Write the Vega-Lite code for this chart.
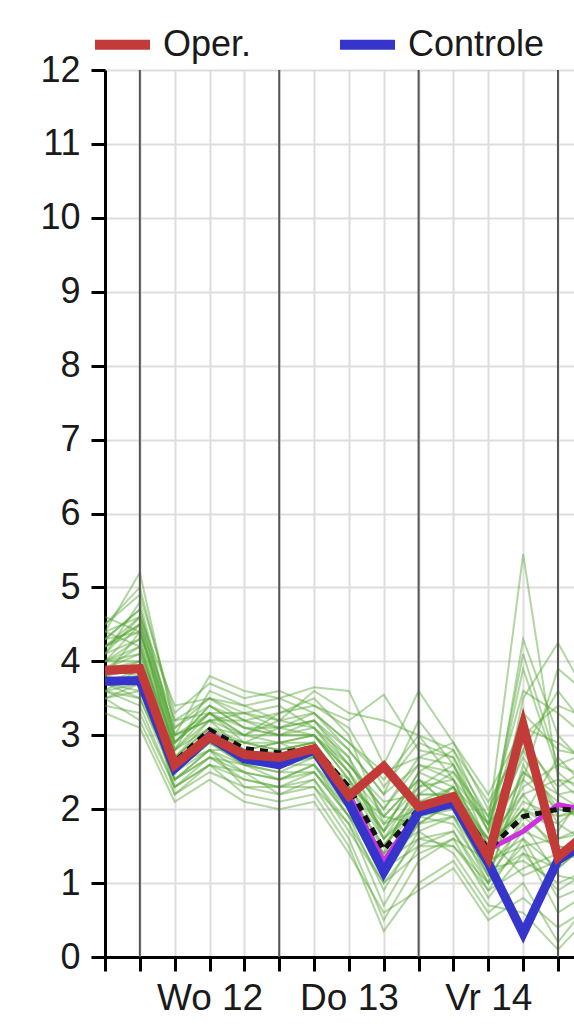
{
  "$schema": "https://vega.github.io/schema/vega-lite/v6.json",
  "autosize": "none",
  "width": 469,
  "height": 887,
  "padding": {"left": 105, "top": 70, "right": 0, "bottom": 67},
  "background": "white",
  "config": {
    "view": {"stroke": null},
    "font": "Liberation Sans",
    "axis": {
      "labelFont": "Liberation Sans",
      "labelFontSize": 36,
      "labelColor": "#1a1a1a",
      "domainColor": "black",
      "domainWidth": 3,
      "tickColor": "black",
      "tickWidth": 3,
      "tickSize": 14,
      "gridColor": "#dddddd",
      "gridWidth": 2,
      "labelOverlap": false,
      "labelBound": false,
      "title": null
    },
    "legend": {
      "orient": "none",
      "legendX": -15,
      "legendY": -58,
      "direction": "horizontal",
      "symbolType": "stroke",
      "symbolStrokeWidth": 10,
      "symbolSize": 3025,
      "labelFont": "Liberation Sans",
      "labelFontSize": 36,
      "labelColor": "#1a1a1a",
      "labelOffset": 8,
      "columnPadding": 68,
      "padding": 0,
      "title": null
    }
  },
  "datasets": {
    "days": [{"s": 1}, {"s": 5}, {"s": 9}, {"s": 13}],
    "main": [
      {"series": "Controle", "s": 0, "v": 3.73}, {"series": "Controle", "s": 1, "v": 3.74}, {"series": "Controle", "s": 2, "v": 2.55}, {"series": "Controle", "s": 3, "v": 2.98}, {"series": "Controle", "s": 4, "v": 2.68}, {"series": "Controle", "s": 5, "v": 2.6}, {"series": "Controle", "s": 6, "v": 2.8}, {"series": "Controle", "s": 7, "v": 2.08}, {"series": "Controle", "s": 8, "v": 1.15}, {"series": "Controle", "s": 9, "v": 1.96}, {"series": "Controle", "s": 10, "v": 2.08}, {"series": "Controle", "s": 11, "v": 1.27}, {"series": "Controle", "s": 12, "v": 0.32}, {"series": "Controle", "s": 13, "v": 1.31}, {"series": "Controle", "s": 14, "v": 1.6},
      {"series": "Oper.", "s": 0, "v": 3.88}, {"series": "Oper.", "s": 1, "v": 3.9}, {"series": "Oper.", "s": 2, "v": 2.6}, {"series": "Oper.", "s": 3, "v": 2.98}, {"series": "Oper.", "s": 4, "v": 2.74}, {"series": "Oper.", "s": 5, "v": 2.7}, {"series": "Oper.", "s": 6, "v": 2.82}, {"series": "Oper.", "s": 7, "v": 2.18}, {"series": "Oper.", "s": 8, "v": 2.58}, {"series": "Oper.", "s": 9, "v": 2.03}, {"series": "Oper.", "s": 10, "v": 2.17}, {"series": "Oper.", "s": 11, "v": 1.35}, {"series": "Oper.", "s": 12, "v": 3.14}, {"series": "Oper.", "s": 13, "v": 1.35}, {"series": "Oper.", "s": 14, "v": 1.75}
    ],
    "mean": [
      {"s": 0, "v": 3.88}, {"s": 1, "v": 3.92}, {"s": 2, "v": 2.64}, {"s": 3, "v": 3.07}, {"s": 4, "v": 2.82}, {"s": 5, "v": 2.76}, {"s": 6, "v": 2.83}, {"s": 7, "v": 2.3}, {"s": 8, "v": 1.45}, {"s": 9, "v": 2.0}, {"s": 10, "v": 2.15}, {"s": 11, "v": 1.45}, {"s": 12, "v": 1.9}, {"s": 13, "v": 2.0}, {"s": 14, "v": 1.98}
    ],
    "median": [
      {"s": 0, "v": 3.85}, {"s": 1, "v": 3.88}, {"s": 2, "v": 2.6}, {"s": 3, "v": 3.03}, {"s": 4, "v": 2.76}, {"s": 5, "v": 2.72}, {"s": 6, "v": 2.8}, {"s": 7, "v": 2.2}, {"s": 8, "v": 1.3}, {"s": 9, "v": 1.98}, {"s": 10, "v": 2.1}, {"s": 11, "v": 1.45}, {"s": 12, "v": 1.7}, {"s": 13, "v": 2.06}, {"s": 14, "v": 1.98}
    ],
    "ens": [
      {"m":"e1","s":0,"v":4.4},{"m":"e1","s":1,"v":5.2},{"m":"e1","s":2,"v":3.1},{"m":"e1","s":3,"v":3.5},{"m":"e1","s":4,"v":3.2},{"m":"e1","s":5,"v":3.1},{"m":"e1","s":6,"v":3.3},{"m":"e1","s":7,"v":2.8},{"m":"e1","s":8,"v":2.2},{"m":"e1","s":9,"v":2.6},{"m":"e1","s":10,"v":2.4},{"m":"e1","s":11,"v":1.8},{"m":"e1","s":12,"v":5.45},{"m":"e1","s":13,"v":2.4},{"m":"e1","s":14,"v":2.0},
      {"m":"e2","s":0,"v":4.2},{"m":"e2","s":1,"v":4.6},{"m":"e2","s":2,"v":2.9},{"m":"e2","s":3,"v":3.3},{"m":"e2","s":4,"v":3.0},{"m":"e2","s":5,"v":3.3},{"m":"e2","s":6,"v":3.5},{"m":"e2","s":7,"v":3.0},{"m":"e2","s":8,"v":1.8},{"m":"e2","s":9,"v":2.3},{"m":"e2","s":10,"v":2.6},{"m":"e2","s":11,"v":1.5},{"m":"e2","s":12,"v":4.3},{"m":"e2","s":13,"v":3.0},{"m":"e2","s":14,"v":2.5},
      {"m":"e3","s":0,"v":4.0},{"m":"e3","s":1,"v":4.5},{"m":"e3","s":2,"v":2.7},{"m":"e3","s":3,"v":3.1},{"m":"e3","s":4,"v":2.8},{"m":"e3","s":5,"v":2.9},{"m":"e3","s":6,"v":3.0},{"m":"e3","s":7,"v":2.4},{"m":"e3","s":8,"v":1.2},{"m":"e3","s":9,"v":2.1},{"m":"e3","s":10,"v":2.2},{"m":"e3","s":11,"v":1.2},{"m":"e3","s":12,"v":3.5},{"m":"e3","s":13,"v":4.25},{"m":"e3","s":14,"v":3.4},
      {"m":"e4","s":0,"v":3.6},{"m":"e4","s":1,"v":3.5},{"m":"e4","s":2,"v":2.4},{"m":"e4","s":3,"v":2.8},{"m":"e4","s":4,"v":2.5},{"m":"e4","s":5,"v":2.4},{"m":"e4","s":6,"v":2.6},{"m":"e4","s":7,"v":1.9},{"m":"e4","s":8,"v":0.9},{"m":"e4","s":9,"v":1.7},{"m":"e4","s":10,"v":1.9},{"m":"e4","s":11,"v":1.0},{"m":"e4","s":12,"v":2.6},{"m":"e4","s":13,"v":1.8},{"m":"e4","s":14,"v":1.5},
      {"m":"e5","s":0,"v":3.5},{"m":"e5","s":1,"v":3.2},{"m":"e5","s":2,"v":2.2},{"m":"e5","s":3,"v":2.5},{"m":"e5","s":4,"v":2.3},{"m":"e5","s":5,"v":2.2},{"m":"e5","s":6,"v":2.3},{"m":"e5","s":7,"v":1.6},{"m":"e5","s":8,"v":0.5},{"m":"e5","s":9,"v":1.3},{"m":"e5","s":10,"v":1.6},{"m":"e5","s":11,"v":0.8},{"m":"e5","s":12,"v":1.4},{"m":"e5","s":13,"v":0.9},{"m":"e5","s":14,"v":1.2},
      {"m":"e6","s":0,"v":3.9},{"m":"e6","s":1,"v":4.2},{"m":"e6","s":2,"v":2.8},{"m":"e6","s":3,"v":3.6},{"m":"e6","s":4,"v":3.4},{"m":"e6","s":5,"v":3.5},{"m":"e6","s":6,"v":3.65},{"m":"e6","s":7,"v":3.6},{"m":"e6","s":8,"v":2.6},{"m":"e6","s":9,"v":3.6},{"m":"e6","s":10,"v":2.9},{"m":"e6","s":11,"v":2.0},{"m":"e6","s":12,"v":3.0},{"m":"e6","s":13,"v":2.2},{"m":"e6","s":14,"v":2.3},
      {"m":"e7","s":0,"v":4.3},{"m":"e7","s":1,"v":4.7},{"m":"e7","s":2,"v":3.0},{"m":"e7","s":3,"v":3.2},{"m":"e7","s":4,"v":3.3},{"m":"e7","s":5,"v":3.2},{"m":"e7","s":6,"v":3.1},{"m":"e7","s":7,"v":2.7},{"m":"e7","s":8,"v":1.6},{"m":"e7","s":9,"v":2.0},{"m":"e7","s":10,"v":2.3},{"m":"e7","s":11,"v":1.4},{"m":"e7","s":12,"v":2.2},{"m":"e7","s":13,"v":1.6},{"m":"e7","s":14,"v":1.8},
      {"m":"e8","s":0,"v":3.7},{"m":"e8","s":1,"v":3.9},{"m":"e8","s":2,"v":2.5},{"m":"e8","s":3,"v":2.9},{"m":"e8","s":4,"v":2.7},{"m":"e8","s":5,"v":2.6},{"m":"e8","s":6,"v":2.7},{"m":"e8","s":7,"v":2.1},{"m":"e8","s":8,"v":1.4},{"m":"e8","s":9,"v":2.4},{"m":"e8","s":10,"v":2.0},{"m":"e8","s":11,"v":1.6},{"m":"e8","s":12,"v":1.9},{"m":"e8","s":13,"v":2.7},{"m":"e8","s":14,"v":2.2},
      {"m":"e9","s":0,"v":3.4},{"m":"e9","s":1,"v":3.3},{"m":"e9","s":2,"v":2.3},{"m":"e9","s":3,"v":2.6},{"m":"e9","s":4,"v":2.2},{"m":"e9","s":5,"v":2.1},{"m":"e9","s":6,"v":2.2},{"m":"e9","s":7,"v":1.5},{"m":"e9","s":8,"v":0.35},{"m":"e9","s":9,"v":1.0},{"m":"e9","s":10,"v":1.3},{"m":"e9","s":11,"v":0.6},{"m":"e9","s":12,"v":1.0},{"m":"e9","s":13,"v":0.2},{"m":"e9","s":14,"v":0.8},
      {"m":"e10","s":0,"v":4.5},{"m":"e10","s":1,"v":4.9},{"m":"e10","s":2,"v":3.3},{"m":"e10","s":3,"v":3.7},{"m":"e10","s":4,"v":3.5},{"m":"e10","s":5,"v":3.6},{"m":"e10","s":6,"v":3.4},{"m":"e10","s":7,"v":3.2},{"m":"e10","s":8,"v":3.55},{"m":"e10","s":9,"v":2.8},{"m":"e10","s":10,"v":2.7},{"m":"e10","s":11,"v":1.9},{"m":"e10","s":12,"v":2.8},{"m":"e10","s":13,"v":3.6},{"m":"e10","s":14,"v":3.0},
      {"m":"e11","s":0,"v":4.1},{"m":"e11","s":1,"v":4.3},{"m":"e11","s":2,"v":2.6},{"m":"e11","s":3,"v":3.0},{"m":"e11","s":4,"v":2.9},{"m":"e11","s":5,"v":2.8},{"m":"e11","s":6,"v":2.9},{"m":"e11","s":7,"v":2.3},{"m":"e11","s":8,"v":1.9},{"m":"e11","s":9,"v":1.8},{"m":"e11","s":10,"v":2.1},{"m":"e11","s":11,"v":1.3},{"m":"e11","s":12,"v":1.6},{"m":"e11","s":13,"v":1.2},{"m":"e11","s":14,"v":1.6},
      {"m":"e12","s":0,"v":3.8},{"m":"e12","s":1,"v":3.7},{"m":"e12","s":2,"v":2.6},{"m":"e12","s":3,"v":2.9},{"m":"e12","s":4,"v":2.6},{"m":"e12","s":5,"v":2.5},{"m":"e12","s":6,"v":2.5},{"m":"e12","s":7,"v":2.0},{"m":"e12","s":8,"v":1.1},{"m":"e12","s":9,"v":1.9},{"m":"e12","s":10,"v":1.8},{"m":"e12","s":11,"v":1.1},{"m":"e12","s":12,"v":2.4},{"m":"e12","s":13,"v":2.0},{"m":"e12","s":14,"v":1.9},
      {"m":"e13","s":0,"v":4.0},{"m":"e13","s":1,"v":4.1},{"m":"e13","s":2,"v":2.9},{"m":"e13","s":3,"v":3.4},{"m":"e13","s":4,"v":3.1},{"m":"e13","s":5,"v":3.0},{"m":"e13","s":6,"v":3.2},{"m":"e13","s":7,"v":2.6},{"m":"e13","s":8,"v":2.1},{"m":"e13","s":9,"v":2.2},{"m":"e13","s":10,"v":2.5},{"m":"e13","s":11,"v":1.7},{"m":"e13","s":12,"v":3.9},{"m":"e13","s":13,"v":2.5},{"m":"e13","s":14,"v":2.1},
      {"m":"e14","s":0,"v":3.6},{"m":"e14","s":1,"v":3.4},{"m":"e14","s":2,"v":2.3},{"m":"e14","s":3,"v":2.7},{"m":"e14","s":4,"v":2.4},{"m":"e14","s":5,"v":2.3},{"m":"e14","s":6,"v":2.4},{"m":"e14","s":7,"v":1.8},{"m":"e14","s":8,"v":0.7},{"m":"e14","s":9,"v":1.5},{"m":"e14","s":10,"v":1.5},{"m":"e14","s":11,"v":0.9},{"m":"e14","s":12,"v":1.2},{"m":"e14","s":13,"v":1.4},{"m":"e14","s":14,"v":1.3},
      {"m":"e15","s":0,"v":4.3},{"m":"e15","s":1,"v":4.4},{"m":"e15","s":2,"v":2.8},{"m":"e15","s":3,"v":3.3},{"m":"e15","s":4,"v":3.0},{"m":"e15","s":5,"v":3.2},{"m":"e15","s":6,"v":3.3},{"m":"e15","s":7,"v":2.9},{"m":"e15","s":8,"v":2.4},{"m":"e15","s":9,"v":3.0},{"m":"e15","s":10,"v":2.4},{"m":"e15","s":11,"v":1.5},{"m":"e15","s":12,"v":2.0},{"m":"e15","s":13,"v":1.7},{"m":"e15","s":14,"v":2.4},
      {"m":"e16","s":0,"v":3.9},{"m":"e16","s":1,"v":4.0},{"m":"e16","s":2,"v":2.5},{"m":"e16","s":3,"v":2.8},{"m":"e16","s":4,"v":2.8},{"m":"e16","s":5,"v":2.7},{"m":"e16","s":6,"v":2.8},{"m":"e16","s":7,"v":2.2},{"m":"e16","s":8,"v":1.5},{"m":"e16","s":9,"v":2.2},{"m":"e16","s":10,"v":2.2},{"m":"e16","s":11,"v":1.2},{"m":"e16","s":12,"v":1.8},{"m":"e16","s":13,"v":1.1},{"m":"e16","s":14,"v":1.0},
      {"m":"e17","s":0,"v":4.2},{"m":"e17","s":1,"v":4.5},{"m":"e17","s":2,"v":3.2},{"m":"e17","s":3,"v":3.5},{"m":"e17","s":4,"v":3.3},{"m":"e17","s":5,"v":3.4},{"m":"e17","s":6,"v":3.1},{"m":"e17","s":7,"v":2.5},{"m":"e17","s":8,"v":1.7},{"m":"e17","s":9,"v":2.5},{"m":"e17","s":10,"v":2.8},{"m":"e17","s":11,"v":2.1},{"m":"e17","s":12,"v":2.9},{"m":"e17","s":13,"v":2.3},{"m":"e17","s":14,"v":2.6},
      {"m":"e18","s":0,"v":3.5},{"m":"e18","s":1,"v":3.6},{"m":"e18","s":2,"v":2.4},{"m":"e18","s":3,"v":2.7},{"m":"e18","s":4,"v":2.5},{"m":"e18","s":5,"v":2.4},{"m":"e18","s":6,"v":2.6},{"m":"e18","s":7,"v":2.0},{"m":"e18","s":8,"v":1.3},{"m":"e18","s":9,"v":1.6},{"m":"e18","s":10,"v":1.7},{"m":"e18","s":11,"v":1.0},{"m":"e18","s":12,"v":1.5},{"m":"e18","s":13,"v":0.6},{"m":"e18","s":14,"v":0.9},
      {"m":"e19","s":0,"v":4.1},{"m":"e19","s":1,"v":4.8},{"m":"e19","s":2,"v":3.0},{"m":"e19","s":3,"v":3.2},{"m":"e19","s":4,"v":3.2},{"m":"e19","s":5,"v":3.0},{"m":"e19","s":6,"v":3.0},{"m":"e19","s":7,"v":2.6},{"m":"e19","s":8,"v":2.0},{"m":"e19","s":9,"v":2.7},{"m":"e19","s":10,"v":2.6},{"m":"e19","s":11,"v":1.8},{"m":"e19","s":12,"v":3.3},{"m":"e19","s":13,"v":2.8},{"m":"e19","s":14,"v":2.7},
      {"m":"e20","s":0,"v":3.7},{"m":"e20","s":1,"v":3.8},{"m":"e20","s":2,"v":2.7},{"m":"e20","s":3,"v":3.1},{"m":"e20","s":4,"v":2.7},{"m":"e20","s":5,"v":2.8},{"m":"e20","s":6,"v":2.9},{"m":"e20","s":7,"v":2.3},{"m":"e20","s":8,"v":1.6},{"m":"e20","s":9,"v":2.1},{"m":"e20","s":10,"v":2.3},{"m":"e20","s":11,"v":1.4},{"m":"e20","s":12,"v":2.1},{"m":"e20","s":13,"v":1.9},{"m":"e20","s":14,"v":2.0},
      {"m":"e21","s":0,"v":4.4},{"m":"e21","s":1,"v":4.6},{"m":"e21","s":2,"v":2.9},{"m":"e21","s":3,"v":3.4},{"m":"e21","s":4,"v":3.1},{"m":"e21","s":5,"v":3.1},{"m":"e21","s":6,"v":3.2},{"m":"e21","s":7,"v":2.7},{"m":"e21","s":8,"v":1.9},{"m":"e21","s":9,"v":2.4},{"m":"e21","s":10,"v":2.0},{"m":"e21","s":11,"v":1.1},{"m":"e21","s":12,"v":1.7},{"m":"e21","s":13,"v":1.5},{"m":"e21","s":14,"v":1.4},
      {"m":"e22","s":0,"v":3.8},{"m":"e22","s":1,"v":4.0},{"m":"e22","s":2,"v":2.2},{"m":"e22","s":3,"v":2.6},{"m":"e22","s":4,"v":2.5},{"m":"e22","s":5,"v":2.2},{"m":"e22","s":6,"v":2.4},{"m":"e22","s":7,"v":1.7},{"m":"e22","s":8,"v":1.0},{"m":"e22","s":9,"v":1.4},{"m":"e22","s":10,"v":1.6},{"m":"e22","s":11,"v":1.3},{"m":"e22","s":12,"v":2.5},{"m":"e22","s":13,"v":2.1},{"m":"e22","s":14,"v":1.7},
      {"m":"e23","s":0,"v":4.0},{"m":"e23","s":1,"v":4.2},{"m":"e23","s":2,"v":2.7},{"m":"e23","s":3,"v":3.0},{"m":"e23","s":4,"v":2.9},{"m":"e23","s":5,"v":2.9},{"m":"e23","s":6,"v":2.7},{"m":"e23","s":7,"v":2.4},{"m":"e23","s":8,"v":1.8},{"m":"e23","s":9,"v":2.0},{"m":"e23","s":10,"v":2.1},{"m":"e23","s":11,"v":1.6},{"m":"e23","s":12,"v":1.1},{"m":"e23","s":13,"v":1.3},{"m":"e23","s":14,"v":1.5},
      {"m":"e24","s":0,"v":3.6},{"m":"e24","s":1,"v":3.7},{"m":"e24","s":2,"v":2.6},{"m":"e24","s":3,"v":2.9},{"m":"e24","s":4,"v":2.6},{"m":"e24","s":5,"v":2.6},{"m":"e24","s":6,"v":2.6},{"m":"e24","s":7,"v":2.1},{"m":"e24","s":8,"v":1.2},{"m":"e24","s":9,"v":1.8},{"m":"e24","s":10,"v":1.9},{"m":"e24","s":11,"v":1.5},{"m":"e24","s":12,"v":2.3},{"m":"e24","s":13,"v":2.6},{"m":"e24","s":14,"v":2.8},
      {"m":"e25","s":0,"v":4.2},{"m":"e25","s":1,"v":4.4},{"m":"e25","s":2,"v":3.1},{"m":"e25","s":3,"v":3.4},{"m":"e25","s":4,"v":3.2},{"m":"e25","s":5,"v":3.3},{"m":"e25","s":6,"v":3.4},{"m":"e25","s":7,"v":3.1},{"m":"e25","s":8,"v":2.3},{"m":"e25","s":9,"v":2.9},{"m":"e25","s":10,"v":2.7},{"m":"e25","s":11,"v":1.7},{"m":"e25","s":12,"v":2.7},{"m":"e25","s":13,"v":2.0},{"m":"e25","s":14,"v":1.9},
      {"m":"e26","s":0,"v":3.7},{"m":"e26","s":1,"v":3.6},{"m":"e26","s":2,"v":2.4},{"m":"e26","s":3,"v":2.8},{"m":"e26","s":4,"v":2.3},{"m":"e26","s":5,"v":2.3},{"m":"e26","s":6,"v":2.5},{"m":"e26","s":7,"v":1.9},{"m":"e26","s":8,"v":1.4},{"m":"e26","s":9,"v":1.7},{"m":"e26","s":10,"v":1.4},{"m":"e26","s":11,"v":0.7},{"m":"e26","s":12,"v":0.6},{"m":"e26","s":13,"v":0.1},{"m":"e26","s":14,"v":0.6},
      {"m":"e27","s":0,"v":4.0},{"m":"e27","s":1,"v":4.3},{"m":"e27","s":2,"v":2.8},{"m":"e27","s":3,"v":3.2},{"m":"e27","s":4,"v":3.0},{"m":"e27","s":5,"v":2.9},{"m":"e27","s":6,"v":3.0},{"m":"e27","s":7,"v":2.5},{"m":"e27","s":8,"v":1.6},{"m":"e27","s":9,"v":2.3},{"m":"e27","s":10,"v":2.4},{"m":"e27","s":11,"v":1.4},{"m":"e27","s":12,"v":2.0},{"m":"e27","s":13,"v":1.8},{"m":"e27","s":14,"v":2.2},
      {"m":"e28","s":0,"v":3.9},{"m":"e28","s":1,"v":4.1},{"m":"e28","s":2,"v":2.6},{"m":"e28","s":3,"v":3.1},{"m":"e28","s":4,"v":2.9},{"m":"e28","s":5,"v":2.8},{"m":"e28","s":6,"v":2.9},{"m":"e28","s":7,"v":2.2},{"m":"e28","s":8,"v":1.3},{"m":"e28","s":9,"v":1.9},{"m":"e28","s":10,"v":2.0},{"m":"e28","s":11,"v":1.3},{"m":"e28","s":12,"v":1.5},{"m":"e28","s":13,"v":1.6},{"m":"e28","s":14,"v":1.7},
      {"m":"e29","s":0,"v":4.3},{"m":"e29","s":1,"v":4.7},{"m":"e29","s":2,"v":3.0},{"m":"e29","s":3,"v":3.3},{"m":"e29","s":4,"v":3.1},{"m":"e29","s":5,"v":3.0},{"m":"e29","s":6,"v":3.1},{"m":"e29","s":7,"v":2.6},{"m":"e29","s":8,"v":2.0},{"m":"e29","s":9,"v":2.6},{"m":"e29","s":10,"v":2.5},{"m":"e29","s":11,"v":1.9},{"m":"e29","s":12,"v":3.6},{"m":"e29","s":13,"v":3.3},{"m":"e29","s":14,"v":2.9},
      {"m":"e30","s":0,"v":3.8},{"m":"e30","s":1,"v":3.9},{"m":"e30","s":2,"v":2.5},{"m":"e30","s":3,"v":3.0},{"m":"e30","s":4,"v":2.7},{"m":"e30","s":5,"v":2.7},{"m":"e30","s":6,"v":2.8},{"m":"e30","s":7,"v":2.3},{"m":"e30","s":8,"v":1.7},{"m":"e30","s":9,"v":2.2},{"m":"e30","s":10,"v":2.2},{"m":"e30","s":11,"v":1.5},{"m":"e30","s":12,"v":2.0},{"m":"e30","s":13,"v":1.4},{"m":"e30","s":14,"v":1.8},
      {"m":"e31","s":0,"v":4.6},{"m":"e31","s":1,"v":4.4},{"m":"e31","s":2,"v":3.0},{"m":"e31","s":3,"v":3.8},{"m":"e31","s":4,"v":3.6},{"m":"e31","s":5,"v":3.5},{"m":"e31","s":6,"v":3.3},{"m":"e31","s":7,"v":2.9},{"m":"e31","s":8,"v":2.5},{"m":"e31","s":9,"v":2.7},{"m":"e31","s":10,"v":2.9},{"m":"e31","s":11,"v":2.2},{"m":"e31","s":12,"v":3.1},{"m":"e31","s":13,"v":2.9},{"m":"e31","s":14,"v":2.6},
      {"m":"e32","s":0,"v":3.3},{"m":"e32","s":1,"v":3.1},{"m":"e32","s":2,"v":2.1},{"m":"e32","s":3,"v":2.4},{"m":"e32","s":4,"v":2.1},{"m":"e32","s":5,"v":2.0},{"m":"e32","s":6,"v":2.1},{"m":"e32","s":7,"v":1.4},{"m":"e32","s":8,"v":0.6},{"m":"e32","s":9,"v":0.9},{"m":"e32","s":10,"v":1.2},{"m":"e32","s":11,"v":0.5},{"m":"e32","s":12,"v":0.8},{"m":"e32","s":13,"v":0.4},{"m":"e32","s":14,"v":0.7},
      {"m":"e33","s":0,"v":4.1},{"m":"e33","s":1,"v":4.6},{"m":"e33","s":2,"v":3.4},{"m":"e33","s":3,"v":3.5},{"m":"e33","s":4,"v":3.4},{"m":"e33","s":5,"v":3.2},{"m":"e33","s":6,"v":3.6},{"m":"e33","s":7,"v":3.3},{"m":"e33","s":8,"v":3.2},{"m":"e33","s":9,"v":3.0},{"m":"e33","s":10,"v":2.8},{"m":"e33","s":11,"v":1.8},{"m":"e33","s":12,"v":2.4},{"m":"e33","s":13,"v":3.9},{"m":"e33","s":14,"v":3.5},
      {"m":"e34","s":0,"v":3.9},{"m":"e34","s":1,"v":3.8},{"m":"e34","s":2,"v":2.6},{"m":"e34","s":3,"v":2.8},{"m":"e34","s":4,"v":2.6},{"m":"e34","s":5,"v":2.5},{"m":"e34","s":6,"v":2.7},{"m":"e34","s":7,"v":2.0},{"m":"e34","s":8,"v":1.5},{"m":"e34","s":9,"v":2.0},{"m":"e34","s":10,"v":1.9},{"m":"e34","s":11,"v":1.2},{"m":"e34","s":12,"v":1.3},{"m":"e34","s":13,"v":1.0},{"m":"e34","s":14,"v":1.2},
      {"m":"e35","s":0,"v":4.2},{"m":"e35","s":1,"v":4.5},{"m":"e35","s":2,"v":2.8},{"m":"e35","s":3,"v":3.1},{"m":"e35","s":4,"v":3.0},{"m":"e35","s":5,"v":3.0},{"m":"e35","s":6,"v":3.0},{"m":"e35","s":7,"v":2.4},{"m":"e35","s":8,"v":1.7},{"m":"e35","s":9,"v":2.5},{"m":"e35","s":10,"v":2.3},{"m":"e35","s":11,"v":1.6},{"m":"e35","s":12,"v":2.2},{"m":"e35","s":13,"v":2.4},{"m":"e35","s":14,"v":2.3},
      {"m":"e36","s":0,"v":3.6},{"m":"e36","s":1,"v":3.9},{"m":"e36","s":2,"v":2.3},{"m":"e36","s":3,"v":2.6},{"m":"e36","s":4,"v":2.4},{"m":"e36","s":5,"v":2.3},{"m":"e36","s":6,"v":2.3},{"m":"e36","s":7,"v":1.8},{"m":"e36","s":8,"v":1.0},{"m":"e36","s":9,"v":1.6},{"m":"e36","s":10,"v":1.5},{"m":"e36","s":11,"v":1.0},{"m":"e36","s":12,"v":1.9},{"m":"e36","s":13,"v":1.5},{"m":"e36","s":14,"v":1.4},
      {"m":"e37","s":0,"v":4.5},{"m":"e37","s":1,"v":5.0},{"m":"e37","s":2,"v":3.2},{"m":"e37","s":3,"v":3.3},{"m":"e37","s":4,"v":3.3},{"m":"e37","s":5,"v":3.1},{"m":"e37","s":6,"v":3.2},{"m":"e37","s":7,"v":2.8},{"m":"e37","s":8,"v":2.2},{"m":"e37","s":9,"v":3.2},{"m":"e37","s":10,"v":2.6},{"m":"e37","s":11,"v":1.7},{"m":"e37","s":12,"v":4.1},{"m":"e37","s":13,"v":2.6},{"m":"e37","s":14,"v":2.4},
      {"m":"e38","s":0,"v":3.7},{"m":"e38","s":1,"v":3.5},{"m":"e38","s":2,"v":2.5},{"m":"e38","s":3,"v":2.9},{"m":"e38","s":4,"v":2.7},{"m":"e38","s":5,"v":2.6},{"m":"e38","s":6,"v":2.8},{"m":"e38","s":7,"v":2.3},{"m":"e38","s":8,"v":1.1},{"m":"e38","s":9,"v":1.8},{"m":"e38","s":10,"v":2.1},{"m":"e38","s":11,"v":1.4},{"m":"e38","s":12,"v":2.8},{"m":"e38","s":13,"v":1.9},{"m":"e38","s":14,"v":2.1},
      {"m":"e39","s":0,"v":4.0},{"m":"e39","s":1,"v":4.0},{"m":"e39","s":2,"v":2.7},{"m":"e39","s":3,"v":3.2},{"m":"e39","s":4,"v":2.8},{"m":"e39","s":5,"v":2.7},{"m":"e39","s":6,"v":2.7},{"m":"e39","s":7,"v":2.2},{"m":"e39","s":8,"v":1.5},{"m":"e39","s":9,"v":2.1},{"m":"e39","s":10,"v":2.0},{"m":"e39","s":11,"v":1.1},{"m":"e39","s":12,"v":1.4},{"m":"e39","s":13,"v":1.2},{"m":"e39","s":14,"v":1.6},
      {"m":"e40","s":0,"v":3.8},{"m":"e40","s":1,"v":4.4},{"m":"e40","s":2,"v":2.9},{"m":"e40","s":3,"v":3.3},{"m":"e40","s":4,"v":2.9},{"m":"e40","s":5,"v":3.1},{"m":"e40","s":6,"v":3.0},{"m":"e40","s":7,"v":2.5},{"m":"e40","s":8,"v":1.9},{"m":"e40","s":9,"v":2.4},{"m":"e40","s":10,"v":2.2},{"m":"e40","s":11,"v":1.6},{"m":"e40","s":12,"v":2.5},{"m":"e40","s":13,"v":2.2},{"m":"e40","s":14,"v":1.9},
      {"m":"e41","s":0,"v":4.4},{"m":"e41","s":1,"v":4.2},{"m":"e41","s":2,"v":2.6},{"m":"e41","s":3,"v":3.0},{"m":"e41","s":4,"v":2.8},{"m":"e41","s":5,"v":2.9},{"m":"e41","s":6,"v":2.9},{"m":"e41","s":7,"v":2.1},{"m":"e41","s":8,"v":1.4},{"m":"e41","s":9,"v":1.9},{"m":"e41","s":10,"v":2.3},{"m":"e41","s":11,"v":1.8},{"m":"e41","s":12,"v":3.0},{"m":"e41","s":13,"v":3.4},{"m":"e41","s":14,"v":3.2},
      {"m":"e42","s":0,"v":3.5},{"m":"e42","s":1,"v":3.7},{"m":"e42","s":2,"v":2.4},{"m":"e42","s":3,"v":2.7},{"m":"e42","s":4,"v":2.6},{"m":"e42","s":5,"v":2.4},{"m":"e42","s":6,"v":2.5},{"m":"e42","s":7,"v":1.9},{"m":"e42","s":8,"v":1.2},{"m":"e42","s":9,"v":1.5},{"m":"e42","s":10,"v":1.7},{"m":"e42","s":11,"v":0.9},{"m":"e42","s":12,"v":1.6},{"m":"e42","s":13,"v":0.8},{"m":"e42","s":14,"v":1.0}
    ]
  },
  "layer": [
    {
      "data": {"name": "ens"},
      "mark": {"type": "line", "color": "#53a431", "strokeWidth": 2, "opacity": 0.45, "clip": true},
      "encoding": {
        "x": {
          "field": "s", "type": "quantitative",
          "scale": {"domain": [0, 13.46], "nice": false, "zero": false},
          "axis": {
            "values": [0, 1, 2, 3, 4, 5, 6, 7, 8, 9, 10, 11, 12, 13],
            "tickCount": 40,
            "labelExpr": "datum.value == 3 ? 'Wo 12' : datum.value == 7 ? 'Do 13' : datum.value == 11 ? 'Vr 14' : ''",
            "labelFontSize": 37,
            "labelPadding": 9,
            "labelFlush": false,
            "grid": true
          }
        },
        "y": {
          "field": "v", "type": "quantitative",
          "scale": {"domain": [0, 12], "nice": false},
          "axis": {
            "values": [0, 1, 2, 3, 4, 5, 6, 7, 8, 9, 10, 11, 12],
            "tickCount": 40,
            "format": "d",
            "labelPadding": 11,
            "grid": true
          }
        },
        "detail": {"field": "m"}
      }
    },
    {
      "data": {"name": "days"},
      "mark": {"type": "rule", "color": "#555555", "strokeWidth": 2},
      "encoding": {
        "x": {"field": "s", "type": "quantitative"}
      }
    },
    {
      "data": {"name": "median"},
      "mark": {"type": "line", "color": "#cc33dd", "strokeWidth": 5, "clip": true},
      "encoding": {
        "x": {"field": "s", "type": "quantitative"},
        "y": {"field": "v", "type": "quantitative"}
      }
    },
    {
      "data": {"name": "mean"},
      "mark": {"type": "line", "color": "#111111", "strokeWidth": 5, "strokeDash": [8, 6], "clip": true},
      "encoding": {
        "x": {"field": "s", "type": "quantitative"},
        "y": {"field": "v", "type": "quantitative"}
      }
    },
    {
      "data": {"name": "main"},
      "mark": {"type": "line", "strokeWidth": 9, "clip": true},
      "encoding": {
        "x": {"field": "s", "type": "quantitative"},
        "y": {"field": "v", "type": "quantitative"},
        "color": {
          "field": "series", "type": "nominal",
          "scale": {"domain": ["Oper.", "Controle"], "range": ["#c23b38", "#3535cc"]},
          "legend": {}
        }
      }
    },
    {
      "mark": {"type": "rule", "color": "black", "strokeWidth": 3},
      "encoding": {"y": {"datum": 12}}
    }
  ]
}
